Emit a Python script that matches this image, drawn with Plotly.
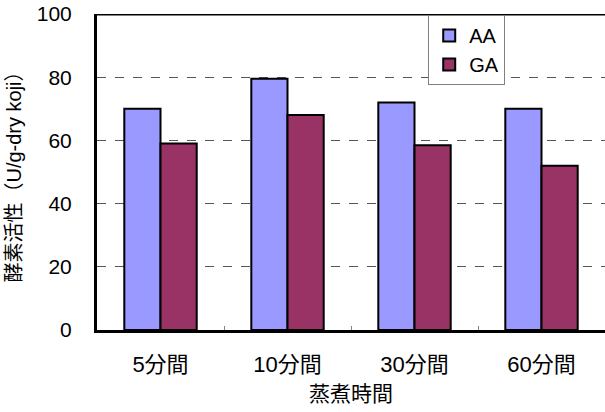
import plotly.graph_objects as go

categories = ["5分間", "10分間", "30分間", "60分間"]
aa_values = [70, 79.5, 72, 70]
ga_values = [59, 68, 58.5, 52]
y_ticks = [0, 20, 40, 60, 80, 100]

FONT = "Liberation Sans, Arial, Noto Sans CJK JP, sans-serif"

fig = go.Figure()
fig.add_trace(go.Bar(
    x=categories, y=aa_values, name="AA", legendgroup="aa",
    marker=dict(color="#9999FF", line=dict(color="black", width=2)),
))
fig.add_trace(go.Bar(
    x=categories, y=ga_values, name="GA", legendgroup="ga",
    marker=dict(color="#993366", line=dict(color="black", width=2)),
))

fig.update_layout(
    width=605, height=412,
    margin=dict(l=97, r=0, t=14, b=82),
    paper_bgcolor="white", plot_bgcolor="white",
    barmode="group", bargap=0.43, bargroupgap=0,
    font=dict(family=FONT, size=20, color="black"),
    showlegend=True,
    legend=dict(
        x=0.652, y=0.997, xanchor="left", yanchor="top",
        bgcolor="white", bordercolor="#808080", borderwidth=1,
        font=dict(size=20), tracegroupgap=0, itemwidth=30,
    ),
    xaxis=dict(
        showline=True, linecolor="black", linewidth=3,
        ticks="inside", tickson="boundaries", ticklen=4, tickcolor="#808080",
        ticklabelstandoff=13,
        tickfont=dict(size=22),
        title=dict(text="蒸煮時間", standoff=10, font=dict(size=21)),
        showgrid=False, zeroline=False,
    ),
    yaxis=dict(
        range=[0, 100], tickvals=y_ticks,
        showline=True, linecolor="black", linewidth=3,
        ticks="", ticklabelstandoff=18,
        showgrid=True, gridcolor="#555555", griddash="dash", gridwidth=1,
        zeroline=False,
        title=dict(text="酵素活性（U/g-dry koji）", standoff=10, font=dict(size=20)),
        tickfont=dict(size=21),
    ),
    shapes=[dict(
        type="line", xref="paper", yref="y", x0=0, x1=1, y0=100, y1=100,
        line=dict(color="black", width=3),
    )],
)

fig.write_html("out.html")
